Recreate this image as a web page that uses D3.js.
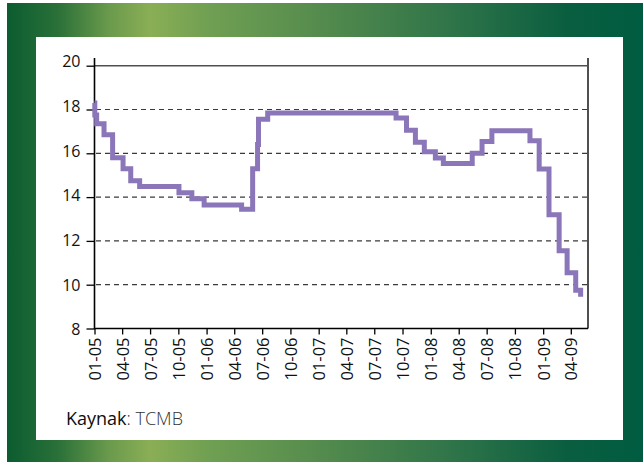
<!DOCTYPE html>
<html><head><meta charset="utf-8">
<script src="https://cdn.jsdelivr.net/npm/d3@7"></script>
<style>html,body{margin:0;padding:0;background:#fff;} svg{display:block}</style>
</head><body>
<svg id="c" width="643" height="462"></svg>
<script>
// Step series: date at which each level starts, and the level (%)
const dates = [
  "2005-01-01","2005-01-02","2005-01-08","2005-02-01","2005-03-01","2005-04-04",
  "2005-04-29","2005-05-28","2005-10-03","2005-11-14","2005-12-24","2006-04-25",
  "2006-05-31","2006-06-16","2006-06-19","2006-07-19","2007-09-10","2007-10-14",
  "2007-11-12","2007-12-11","2008-01-16","2008-02-11","2008-05-15","2008-06-16",
  "2008-07-18","2008-11-19","2008-12-19","2009-01-20","2009-02-22","2009-03-20",
  "2009-04-17","2009-05-03"
];
const values = [
  18.3, 17.75, 17.35, 16.85, 15.8, 15.3,
  14.75, 14.48, 14.2, 13.92, 13.64, 13.44,
  15.3, 16.4, 17.55, 17.84, 17.61, 17.05,
  16.5, 16.07, 15.78, 15.53, 16.0, 16.54,
  17.03, 16.57, 15.28, 13.19, 11.55, 10.55,
  9.75, 9.45
];
const yTickValues = [8, 10, 12, 14, 16, 18, 20];
const gridValues = [10, 12, 14, 16, 18];
const xTickLabels = ["01-05","04-05","07-05","10-05","01-06","04-06","07-06","10-06",
  "01-07","04-07","07-07","10-07","01-08","04-08","07-08","10-08","01-09","04-09"];
const xDomain = ["2005-01-01", "2009-05-27"];
const sourceLabel = "Kaynak";
const sourceText = ": TCMB";

const svg = d3.select("#c");
const defs = svg.append("defs");
const grad = defs.append("linearGradient").attr("id", "fr")
  .attr("x1", 0).attr("x2", 1).attr("y1", 0).attr("y2", 0);
[[0, "#0b5c30"], [0.08, "#2a7038"], [0.16, "#6a9a4c"], [0.225, "#8aae55"],
 [0.32, "#6f9f52"], [0.5, "#538a4d"], [0.7, "#2f7449"], [0.88, "#0a5e40"], [1, "#005c40"]]
  .forEach(([o, c]) => grad.append("stop").attr("offset", o).attr("stop-color", c));

svg.append("rect").attr("x", 7).attr("y", 3).attr("width", 636).attr("height", 459)
  .attr("fill", "url(#fr)");
svg.append("rect").attr("x", 36).attr("y", 37).attr("width", 587).attr("height", 403)
  .attr("fill", "#fff");

const parse = d3.timeParse("%Y-%m-%d");
const parseTick = d3.timeParse("%m-%y");
const data = dates.map((d, i) => ({ date: parse(d), v: values[i] }));

const x = d3.scaleTime().domain(xDomain.map(parse)).range([94.5, 588]);
const y = d3.scaleLinear().domain([8, 20]).range([328.5, 65.7]);
const labelY = d3.scaleLinear().domain([8, 20]).range([329, 61]);

const FONT = "'Open Sans', 'DejaVu Sans', sans-serif";

// gridlines
svg.append("g").selectAll("line").data(gridValues).join("line")
  .attr("x1", 96).attr("x2", 587)
  .attr("y1", d => y(d)).attr("y2", d => y(d))
  .attr("stroke", "#3a3a3a").attr("stroke-width", 1.2)
  .attr("stroke-dasharray", "5,4");

// top frame line and right frame line
svg.append("line").attr("x1", 94).attr("x2", 588).attr("y1", y(20)).attr("y2", y(20))
  .attr("stroke", "#505050").attr("stroke-width", 1.6);
svg.append("line").attr("x1", 588).attr("x2", 588).attr("y1", 58).attr("y2", y(8))
  .attr("stroke", "#505050").attr("stroke-width", 2);

// y axis
const yAxis = svg.append("g").attr("transform", "translate(94.5,0)")
  .call(d3.axisLeft(y).tickValues(yTickValues).tickSize(8).tickFormat(d3.format("d")));
yAxis.select(".domain").remove();
yAxis.selectAll(".tick line").attr("stroke", "#000").attr("stroke-width", 1.3);
yAxis.selectAll(".tick text")
  .attr("x", -14).attr("dy", "0.36em")
  .attr("y", d => labelY(d) - y(d))
  .attr("fill", "#111").style("font-family", FONT).style("font-size", "16px");
svg.append("line").attr("x1", 94.5).attr("x2", 94.5).attr("y1", 58).attr("y2", y(8) + 0.7)
  .attr("stroke", "#000").attr("stroke-width", 1.6);

// x axis
const xAxis = svg.append("g").attr("transform", `translate(0,${y(8)})`)
  .call(d3.axisBottom(x).tickValues(xTickLabels.map(parseTick)).tickSize(6)
    .tickFormat(d3.timeFormat("%m-%y")));
xAxis.select(".domain").remove();
xAxis.selectAll(".tick line").attr("stroke", "#000").attr("stroke-width", 1.3);
xAxis.selectAll(".tick text")
  .attr("transform", "rotate(-90)")
  .attr("text-anchor", "end")
  .attr("x", -9).attr("y", 0).attr("dy", "0.36em")
  .attr("fill", "#111").style("font-family", FONT).style("font-size", "16.5px");
svg.append("line").attr("x1", 94).attr("x2", 588).attr("y1", y(8)).attr("y2", y(8))
  .attr("stroke", "#000").attr("stroke-width", 1.6);

// series
const line = d3.line().x(d => x(d.date)).y(d => y(d.v)).curve(d3.curveStepAfter);
svg.append("path").datum(data).attr("d", line)
  .attr("fill", "none").attr("stroke", "#8a76b8").attr("stroke-width", 5)
  .attr("stroke-linejoin", "miter").attr("stroke-linecap", "butt");

// source
const src = svg.append("text").attr("x", 66).attr("y", 425)
  .style("font-family", FONT).style("font-size", "18px");
src.append("tspan").text(sourceLabel).attr("fill", "#0d0d0d").style("font-weight", 400);
src.append("tspan").text(sourceText).attr("fill", "#333").style("font-weight", 300);
</script>
</body></html>
